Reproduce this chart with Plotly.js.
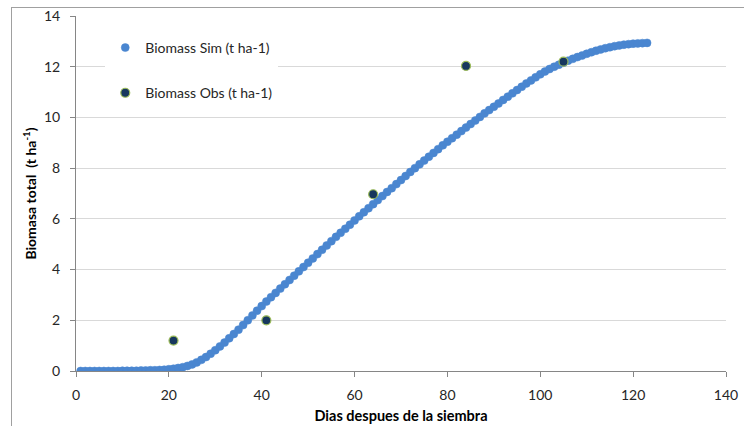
<!DOCTYPE html>
<html>
<head>
<meta charset="utf-8">
<script src="https://cdn.plot.ly/plotly-3.0.1.min.js"></script>
<style>
  html, body { margin: 0; padding: 0; background: #fff; }
  #wrap { position: relative; width: 744px; height: 426px; overflow: hidden; }
  #chart { width: 744px; height: 426px; }
  #frame { position: absolute; left: 11px; top: 7px; width: 800px; height: 500px;
           border: 1px solid #a0a0a0; pointer-events: none; box-sizing: border-box; }
</style>
</head>
<body>
<div id="wrap">
  <div id="chart"></div>
  <div id="frame"></div>
</div>
<script>
// Simulated biomass (t ha-1), days after sowing 1..123
const simDays = [
  1,2,3,4,5,6,7,8,9,10,
  11,12,13,14,15,16,17,18,19,20,
  21,22,23,24,25,26,27,28,29,30,
  31,32,33,34,35,36,37,38,39,40,
  41,42,43,44,45,46,47,48,49,50,
  51,52,53,54,55,56,57,58,59,60,
  61,62,63,64,65,66,67,68,69,70,
  71,72,73,74,75,76,77,78,79,80,
  81,82,83,84,85,86,87,88,89,90,
  91,92,93,94,95,96,97,98,99,100,
  101,102,103,104,105,106,107,108,109,110,
  111,112,113,114,115,116,117,118,119,120,
  121,122,123
];
const simBiomass = [
  0.00,0.00,0.00,0.00,0.00,0.00,0.00,0.00,0.00,0.01,
  0.01,0.01,0.01,0.02,0.02,0.03,0.03,0.04,0.05,0.07,
  0.09,0.12,0.15,0.20,0.26,0.34,0.44,0.55,0.68,0.82,
  0.97,1.12,1.29,1.46,1.63,1.81,2.00,2.19,2.38,2.56,
  2.74,2.91,3.08,3.25,3.42,3.59,3.76,3.93,4.10,4.27,
  4.44,4.61,4.78,4.95,5.12,5.29,5.45,5.61,5.77,5.94,
  6.10,6.26,6.42,6.58,6.74,6.90,7.06,7.21,7.37,7.53,
  7.69,7.85,8.00,8.15,8.30,8.45,8.60,8.75,8.90,9.04,
  9.18,9.32,9.46,9.60,9.74,9.88,10.02,10.16,10.29,10.42,
  10.55,10.69,10.82,10.95,11.08,11.21,11.34,11.46,11.58,11.70,
  11.81,11.91,12.00,12.08,12.16,12.24,12.31,12.38,12.44,12.51,
  12.57,12.63,12.68,12.73,12.77,12.81,12.84,12.87,12.89,12.91,
  12.92,12.93,12.94
];
// Observed biomass (t ha-1)
const obsDays = [21, 41, 64, 84, 105];
const obsBiomass = [1.2, 2.0, 6.97, 12.03, 12.2];

const simName = "Biomass Sim (t ha-1)";
const obsName = "Biomass Obs (t ha-1)";
const xTitle = "Dias despues de la siembra";
const yTitle = "Biomasa total  (t ha<sup>-1</sup>)";

const FONT = "Lato, 'Open Sans', sans-serif";

const traces = [
  {
    x: simDays, y: simBiomass, name: simName, type: "scatter", mode: "markers",
    legendgroup: "sim",
    marker: { color: "#4a86d0", size: 8, line: { color: "#4a86d0", width: 0.5 } }
  },
  {
    x: obsDays, y: obsBiomass, name: obsName, type: "scatter", mode: "markers",
    legendgroup: "obs",
    marker: { color: "#17375e", size: 9, line: { color: "#9bbb59", width: 1.2 } }
  }
];

const layout = {
  width: 744, height: 426,
  margin: { l: 76, r: 18, t: 16, b: 55 },
  paper_bgcolor: "#ffffff", plot_bgcolor: "#ffffff",
  font: { family: FONT, size: 14, color: "#262626" },
  showlegend: true,
  legend: {
    x: 0.045, y: 0.955, xanchor: "left", yanchor: "top",
    bgcolor: "#ffffff", borderwidth: 0,
    font: { family: FONT, size: 14, color: "#262626" },
    tracegroupgap: 24, traceorder: "grouped"
  },
  xaxis: {
    range: [0, 140], dtick: 20, tick0: 0,
    showgrid: false, zeroline: false,
    showline: true, linecolor: "#868686", linewidth: 1,
    ticks: "outside", ticklen: 5, tickcolor: "#868686",
    ticklabelstandoff: 6,
    tickfont: { family: FONT, size: 14, color: "#262626" },
    title: { text: xTitle, font: { family: FONT, size: 14.5, color: "#000000", weight: "bold" }, standoff: 9 }
  },
  yaxis: {
    range: [0, 14], dtick: 2, tick0: 0,
    showgrid: true, gridcolor: "#d9d9d9", gridwidth: 1,
    zeroline: false,
    showline: true, linecolor: "#868686", linewidth: 1,
    ticks: "outside", ticklen: 5, tickcolor: "#868686",
    ticklabelstandoff: 7,
    tickfont: { family: FONT, size: 14, color: "#262626" },
    title: { text: yTitle, font: { family: FONT, size: 14, color: "#000000", weight: "bold" }, standoff: 4 }
  }
};

Plotly.newPlot("chart", traces, layout, { displayModeBar: false, staticPlot: true });
</script>
</body>
</html>
